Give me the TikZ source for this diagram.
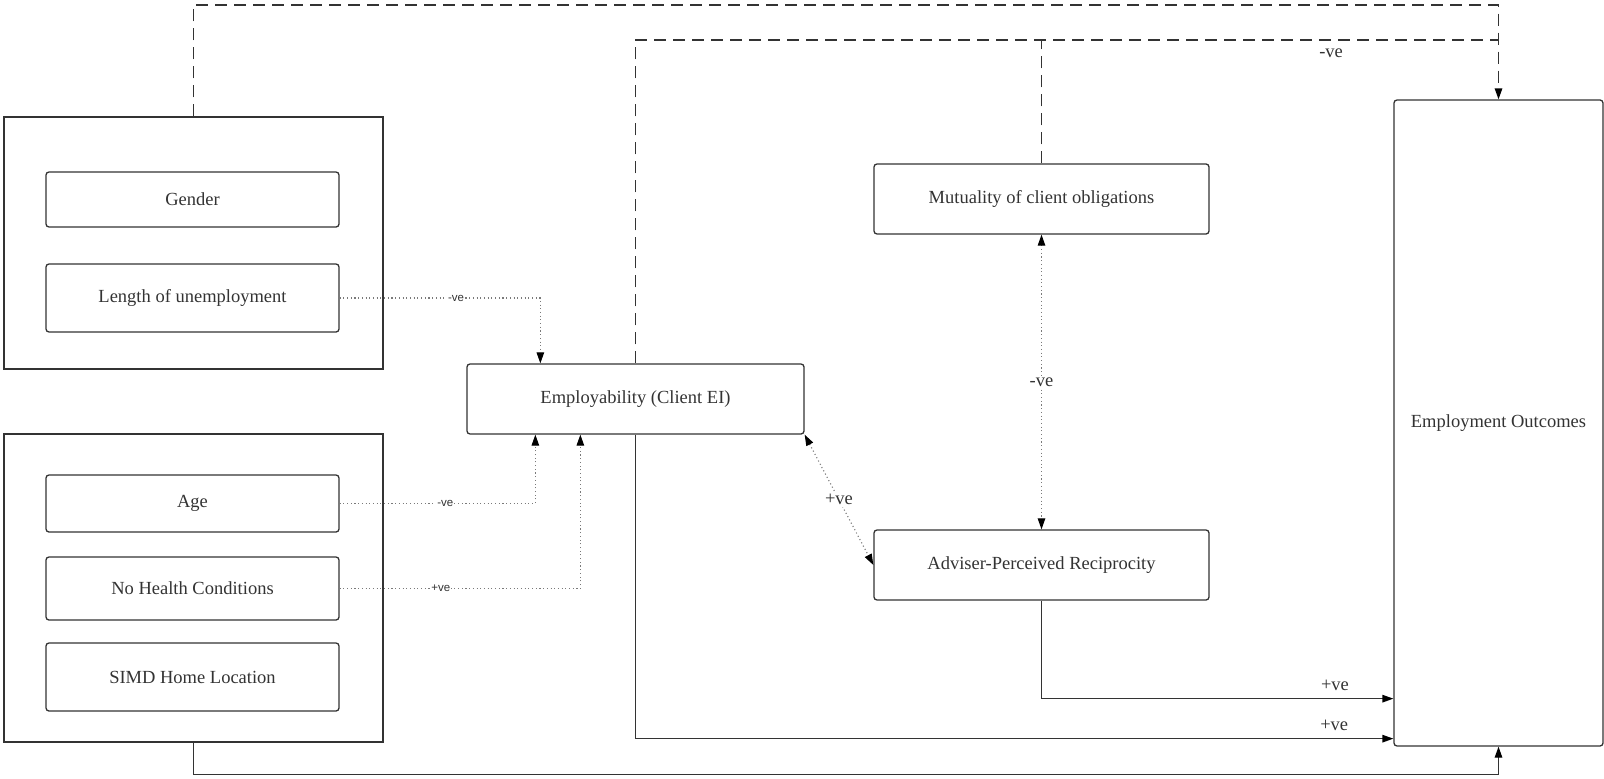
\documentclass[tikz,border=0pt]{standalone}
\usepackage{fontspec}
\setmainfont{Liberation Serif}
\newfontfamily\smallsans{Liberation Sans}
\usetikzlibrary{arrows.meta}
\definecolor{ink}{HTML}{333333}
\definecolor{dotgray}{HTML}{7A7A7A}
\tikzset{
  tip/.style={-{Triangle[length=11pt,width=7.5pt,color=black]}},
  tips/.style={{Triangle[length=11pt,width=7.5pt,color=black]}-{Triangle[length=11pt,width=7.5pt,color=black]}},
  group/.style={draw=ink, line width=1.25pt, minimum width=379pt, inner sep=0pt},
  factor/.style={draw=ink, line width=1.3pt, rounded corners=3pt, minimum width=293pt,
    inner sep=0pt, font=\fontsize{18.5}{20}\selectfont, text=ink},
  concept/.style={draw=ink, line width=1.3pt, rounded corners=3pt, minimum width=335pt,
    minimum height=70pt, inner sep=0pt, font=\fontsize{18.5}{20}\selectfont, text=ink},
  solidlink/.style={draw=ink, line width=1.3pt, tip},
  dashlink/.style={draw=ink, line width=1.4pt, dash pattern=on 12pt off 7pt},
  dotlink/.style={draw=dotgray, line width=1.1pt, dash pattern=on 1.1pt off 2.6pt},
  sanslabel/.style={fill=white, inner sep=1pt, font=\smallsans\fontsize{11.5}{12}\selectfont, text=ink},
  seriflabel/.style={fill=white, inner sep=2pt, font=\fontsize{18.5}{20}\selectfont, text=ink},
  plainlabel/.style={inner sep=1pt, font=\fontsize{18.5}{20}\selectfont, text=ink},
}
\begin{document}
\begin{tikzpicture}[x=1pt,y=-1pt]
\useasboundingbox (0,0) rectangle (1604,779);

% two groups of background factors
\node[group, minimum height=252pt] (g1) at (193.5,243) {};
\node[group, minimum height=308pt] (g2) at (193.5,588) {};

\node[factor, minimum height=55pt] (gender) at (192.5,199.5) {Gender};
\node[factor, minimum height=68pt] (length) at (192.5,298) {Length of unemployment};
\node[factor, minimum height=57pt] (age) at (192.5,503.5) {Age};
\node[factor, minimum height=63pt] (health) at (192.5,588.5) {No Health Conditions};
\node[factor, minimum height=68pt] (simd) at (192.5,677) {SIMD Home Location};

% central concepts
\node[concept, minimum width=337pt] (ei) at (635.5,399) {Employability (Client EI)};
\node[concept] (mut) at (1041.5,199) {Mutuality of client obligations};
\node[concept] (adv) at (1041.5,565) {Adviser-Perceived Reciprocity};

% outcome
\node[draw=ink, line width=1.3pt, rounded corners=3pt, minimum width=209pt, minimum height=646pt,
  inner sep=0pt, font=\fontsize{18.5}{20}\selectfont, text=ink] (eo) at (1498.5,423) {Employment Outcomes};

% junction points of the dashed bus lines
\coordinate (busA) at (1498.5,5);
\coordinate (busB) at (1498.5,40);

% dotted influences on employability
\draw[dotlink, tip] (length.east) -| node[sanslabel, pos=0.29] {-ve} ([xshift=74pt]ei.north west);
\draw[dotlink, tip] (age.east) -| node[sanslabel, pos=0.27] {-ve} ([xshift=69pt]ei.south west);
\draw[dotlink, tip] (health.east) -| node[sanslabel, pos=0.21] {+ve} ([xshift=114pt]ei.south west);

% dotted two-way links
\draw[dotlink, tips] (mut.south) -- node[seriflabel] {-ve} (adv.north);
\draw[dotlink, tips] (ei.south east) -- node[seriflabel] {+ve} (adv.west);

% dashed links to employment outcomes
\draw[dashlink] (ei.north) |- node[plainlabel, pos=0.903, below=7pt] {-ve} (busB);
\draw[dashlink] (mut.north) -- (mut.north |- busB);
\draw[dashlink, tip] (g1.north) |- (busA) -- (eo.north);

% solid links to employment outcomes
\draw[solidlink] (adv.south) |- node[plainlabel, pos=0.917, above=6pt] {+ve} ([yshift=48pt]eo.south west);
\draw[solidlink] (ei.south) |- node[plainlabel, pos=0.961, above=6pt] {+ve} ([yshift=8pt]eo.south west);
\draw[solidlink] (g2.south) -- ++(0,32) -| (eo.south);
\end{tikzpicture}
\end{document}
